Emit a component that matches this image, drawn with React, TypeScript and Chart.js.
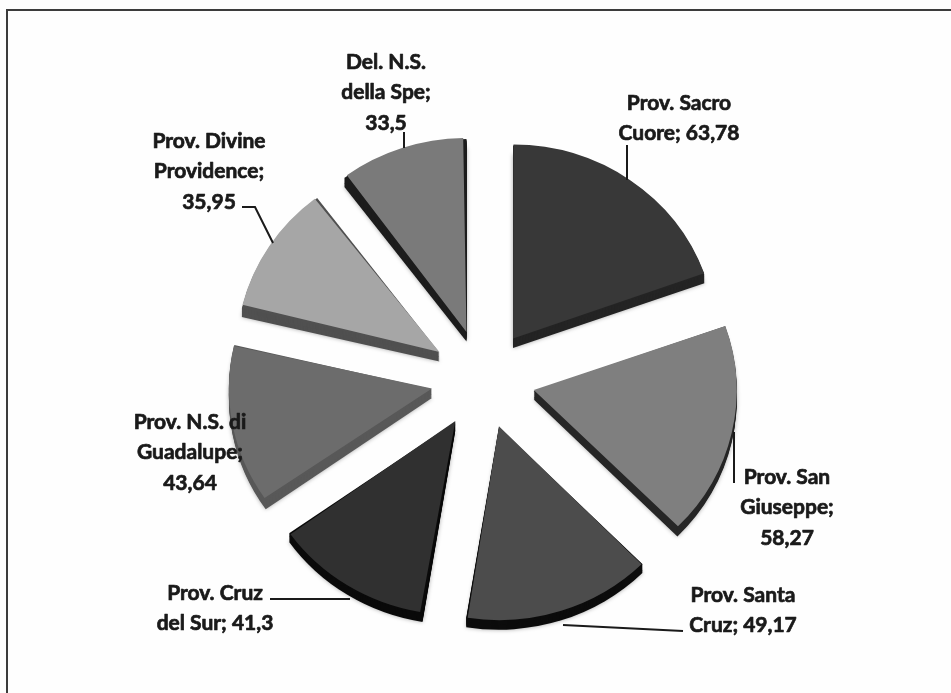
import React, { useEffect, useRef } from "react";
import { Chart, registerables } from "chart.js";

Chart.register(...registerables);

const categories = [
  "Prov. Sacro Cuore",
  "Prov. San Giuseppe",
  "Prov. Santa Cruz",
  "Prov. Cruz del Sur",
  "Prov. N.S. di Guadalupe",
  "Prov. Divine Providence",
  "Del. N.S. della Spe",
];
const values = [63.78, 58.27, 49.17, 41.3, 43.64, 35.95, 33.5];
const faceColors = ["#383838", "#7f7f7f", "#4c4c4c", "#303030", "#6c6c6c", "#a6a6a6", "#7a7a7a"];
const sideColors = ["#242424", "#262626", "#0c0c0c", "#0a0a0a", "#585858", "#505050", "#1c1c1c"];
const labelLines = [
  ["Prov. Sacro", "Cuore; {v}"],
  ["Prov. San", "Giuseppe;", "{v}"],
  ["Prov. Santa", "Cruz; {v}"],
  ["Prov. Cruz", "del Sur; {v}"],
  ["Prov. N.S. di", "Guadalupe;", "{v}"],
  ["Prov. Divine", "Providence;", "{v}"],
  ["Del. N.S.", "della Spe;", "{v}"],
];
const labelAnchors = [
  [679, 103], [787, 477], [743, 595], [215, 593], [190, 422], [209, 141], [386, 62],
];
const leaders = [
  [[627, 145], [627, 180]],
  [[734, 432], [734, 483]],
  [[563, 625], [683, 631]],
  [[270, 599], [350, 599]],
  [],
  [[242, 207], [255, 207], [273, 243]],
  [[404, 132], [404, 148]],
];

const SQUASH = 0.955;
const DEPTH = 10;
const RADIUS = 203;
const SLICE_OFFSET = 208;
const LINE_HEIGHT = 30.5;

const pie3d = {
  id: "pie3d",
  beforeDatasetsDraw(chart: any) {
    const { ctx } = chart;
    const arcs = chart.getDatasetMeta(0).data;
    const cy = arcs[0].y;
    ctx.save();
    ctx.fillStyle = "#fefefe";
    ctx.fillRect(0, 0, chart.width, chart.height);
    ctx.fillStyle = "#3c3c3c";
    ctx.fillRect(6, 9, chart.width - 6, 2);
    ctx.fillRect(6, 9, 2, chart.height - 9);
    ctx.restore();

    ctx.save();
    ctx.translate(0, cy);
    ctx.scale(1, SQUASH);
    ctx.translate(0, -cy);
    arcs.forEach((arc: any, i: number) => {
      const off = arc.options.offset / 4;
      const mid = (arc.startAngle + arc.endAngle) / 2;
      const x = arc.x + Math.cos(mid) * off;
      const y = arc.y + Math.sin(mid) * off;
      // ArcElement grows an offset arc by offset * (1 - sin(circumference)); cancel that.
      arc.outerRadius = RADIUS - off * (1 - Math.sin(Math.min(Math.PI, arc.circumference)));
      ctx.fillStyle = sideColors[i];
      ctx.shadowColor = "rgba(0,0,0,0.35)";
      ctx.shadowBlur = 4;
      for (let d = DEPTH; d >= 1; d--) {
        ctx.beginPath();
        ctx.moveTo(x, y + d);
        ctx.arc(x, y + d, RADIUS, arc.startAngle, arc.endAngle);
        ctx.closePath();
        ctx.fill();
        ctx.shadowBlur = 0;
        ctx.shadowColor = "transparent";
      }
    });
  },
  afterDatasetsDraw(chart: any) {
    const { ctx } = chart;
    ctx.restore();
    ctx.save();
    ctx.strokeStyle = "#1a1a1a";
    ctx.lineWidth = 2;
    leaders.forEach((pts) => {
      if (!pts.length) return;
      ctx.beginPath();
      pts.forEach((p, j) => (j ? ctx.lineTo(p[0], p[1]) : ctx.moveTo(p[0], p[1])));
      ctx.stroke();
    });
    ctx.fillStyle = "#1a1a1a";
    ctx.font = "bold 21px Lato";
    ctx.textAlign = "center";
    ctx.textBaseline = "middle";
    ctx.lineWidth = 0.7;
    ctx.lineJoin = "round";
    labelLines.forEach((lines, i) => {
      const [ax, ay] = labelAnchors[i];
      const v = String(values[i]).replace(".", ",");
      lines.forEach((line, j) => {
        const t = line.replace("{v}", v);
        ctx.fillText(t, ax, ay + j * LINE_HEIGHT);
        ctx.strokeText(t, ax, ay + j * LINE_HEIGHT);
      });
    });
    ctx.restore();
  },
};

export default function App() {
  const ref = useRef<HTMLCanvasElement>(null);
  useEffect(() => {
    document.body.style.margin = "0";
    const chart = new Chart(ref.current!, {
      type: "pie",
      data: {
        labels: categories,
        datasets: [
          {
            data: values,
            backgroundColor: faceColors,
            borderWidth: 0,
            offset: SLICE_OFFSET,
          },
        ],
      },
      options: {
        animation: false,
        responsive: false,
        radius: RADIUS,
        layout: { padding: { left: 15, top: 65, right: 0, bottom: 0 } },
        plugins: { legend: { display: false }, tooltip: { enabled: false } },
      } as any,
      plugins: [pie3d],
    });
    return () => chart.destroy();
  }, []);
  return (
    <canvas
      ref={ref}
      width={951}
      height={693}
      style={{ display: "block", width: 951, height: 693, filter: "blur(0.6px)" }}
    />
  );
}
